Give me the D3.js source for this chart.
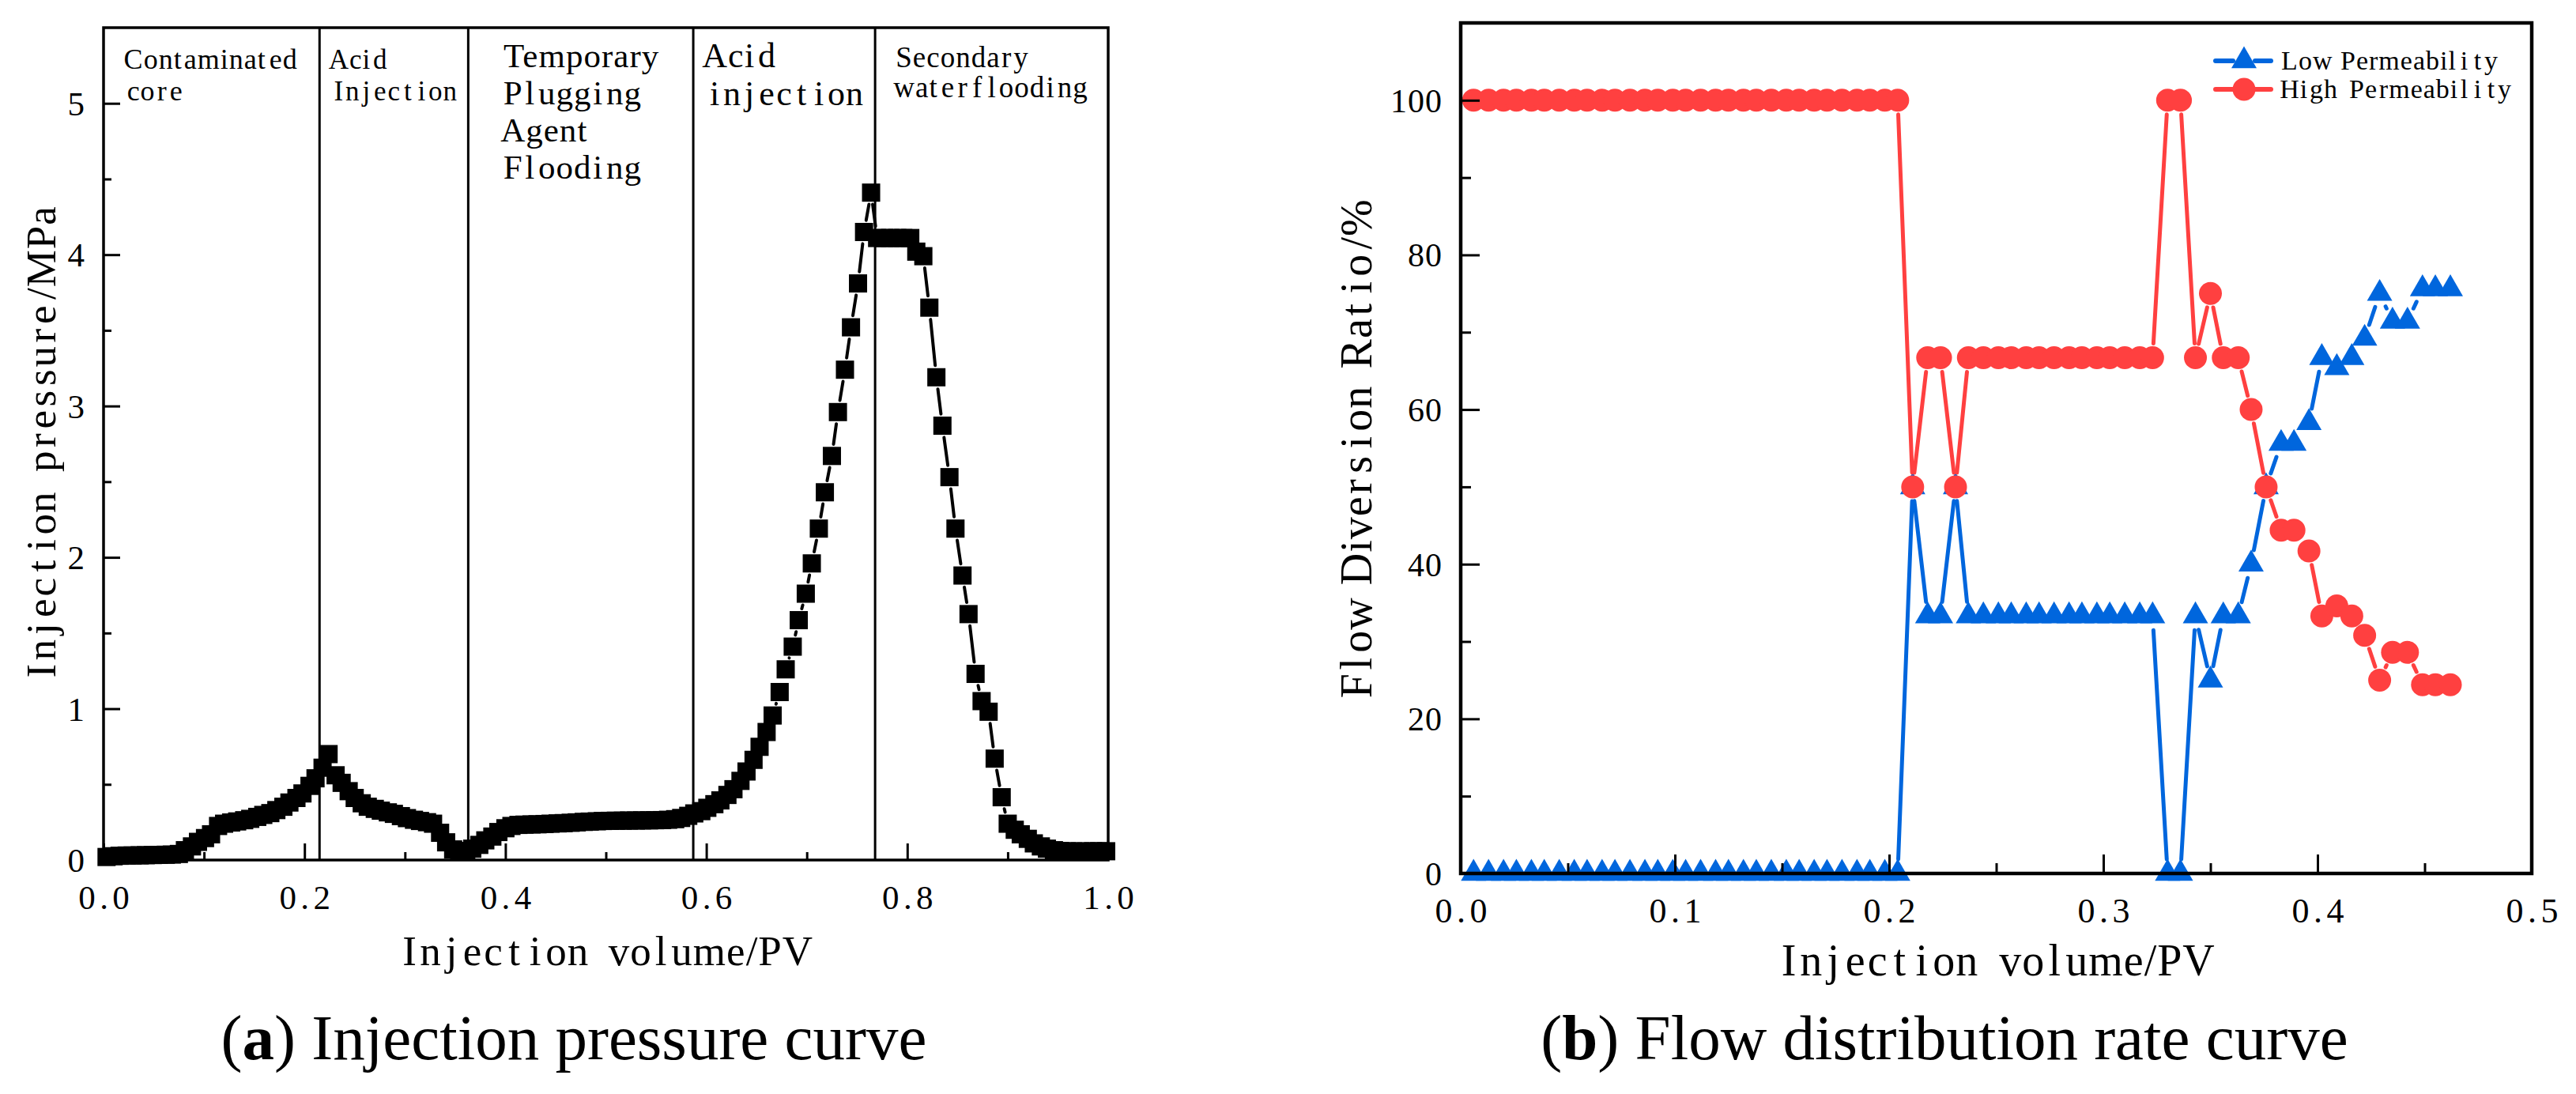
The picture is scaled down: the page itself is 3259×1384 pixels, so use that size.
<!DOCTYPE html>
<html>
<head>
<meta charset="utf-8">
<script src="https://cdn.jsdelivr.net/npm/d3@7"></script>
<style>
  body { margin: 0; background: #fff; }
</style>
</head>
<body>
<script>
// ---- data: (a) injection pressure ----
var pvA = [0.003,0.010,0.016,0.023,0.029,0.036,0.042,0.049,0.055,0.062,
           0.068,0.075,0.081,0.088,0.094,0.101,0.107,0.114,0.120,0.127,
           0.133,0.140,0.146,0.153,0.159,0.166,0.172,0.179,0.185,0.192,
           0.198,0.205,0.211,0.218,0.224,0.231,0.237,0.244,0.250,0.257,
           0.263,0.270,0.276,0.283,0.289,0.296,0.302,0.309,0.315,0.322,
           0.328,0.335,0.341,0.348,0.354,0.361,0.367,0.374,0.380,0.387,
           0.393,0.400,0.406,0.413,0.419,0.426,0.432,0.439,0.445,0.452,
           0.458,0.465,0.471,0.478,0.484,0.491,0.497,0.504,0.510,0.517,
           0.523,0.530,0.536,0.543,0.549,0.556,0.562,0.569,0.575,0.582,
           0.588,0.595,0.601,0.608,0.614,0.621,0.627,0.634,0.640,0.647,
           0.653,0.660,0.666,0.673,0.679,0.686,0.692,0.699,0.705,0.712,
           0.718,0.725,0.731,0.738,0.744,0.751,0.757,0.764,0.770,0.777,
           0.783,0.790,0.796,0.803,0.809,0.816,0.822,0.829,0.835,0.842,
           0.848,0.855,0.861,0.868,0.874,0.881,0.887,0.894,0.900,0.907,
           0.913,0.920,0.926,0.933,0.939,0.946,0.952,0.959,0.965,0.972,
           0.978,0.985,0.991,0.998];
var pressure = [0.020,0.025,0.028,0.030,0.030,0.031,0.032,0.033,0.034,0.035,
                0.036,0.040,0.065,0.090,0.120,0.145,0.170,0.225,0.240,0.248,
                0.255,0.263,0.272,0.285,0.298,0.310,0.330,0.352,0.380,0.410,
                0.440,0.490,0.540,0.610,0.700,0.560,0.510,0.455,0.410,0.375,
                0.352,0.338,0.326,0.315,0.305,0.290,0.277,0.266,0.258,0.250,
                0.240,0.180,0.117,0.070,0.055,0.060,0.075,0.100,0.130,0.155,
                0.185,0.210,0.225,0.232,0.234,0.235,0.236,0.238,0.240,0.242,
                0.244,0.246,0.249,0.252,0.254,0.256,0.258,0.259,0.260,0.260,
                0.261,0.261,0.262,0.262,0.263,0.264,0.266,0.270,0.278,0.292,
                0.308,0.323,0.345,0.369,0.394,0.430,0.468,0.523,0.585,0.662,
                0.748,0.846,0.955,1.110,1.260,1.410,1.585,1.760,1.960,2.190,
                2.430,2.670,2.960,3.240,3.520,3.810,4.150,4.410,4.110,4.110,
                4.110,4.110,4.110,4.110,4.020,3.990,3.650,3.190,2.870,2.530,
                2.190,1.880,1.625,1.230,1.050,0.980,0.670,0.415,0.240,0.200,
                0.170,0.140,0.110,0.090,0.075,0.065,0.060,0.058,0.057,0.057,
                0.057,0.058,0.058,0.058];
var phaseEdges = [0, 0.215, 0.363, 0.587, 0.768, 1.0];
var phaseLabels = [["Contaminated", "core"], ["Acid", "Injection"],
                   ["Temporary", "Plugging", "Agent", "Flooding"],
                   ["Acid", "injection"], ["Secondary", "waterflooding"]];
var ticksAX = [0, 0.2, 0.4, 0.6, 0.8, 1.0];
var ticksAXMinor = [0.1, 0.3, 0.5, 0.7, 0.9];
var ticksAY = [0, 1, 2, 3, 4, 5];
var ticksAYMinor = [0.5, 1.5, 2.5, 3.5, 4.5];

// ---- data: (b) flow diversion ratio ----
var pvB = [0.006,0.013,0.020,0.026,0.033,0.039,0.046,0.053,0.059,0.066,
           0.072,0.079,0.086,0.092,0.099,0.105,0.112,0.119,0.125,0.132,
           0.138,0.145,0.152,0.158,0.165,0.171,0.178,0.185,0.191,0.198,
           0.204,0.211,0.218,0.224,0.231,0.237,0.244,0.251,0.257,0.264,
           0.270,0.277,0.284,0.290,0.297,0.303,0.310,0.317,0.323,0.330,
           0.336,0.343,0.350,0.356,0.363,0.369,0.376,0.383,0.389,0.396,
           0.402,0.409,0.416,0.422,0.429,0.435,0.442,0.449,0.455,0.462];
var lowPerm = [0,0,0,0,0,0,0,0,0,0,
               0,0,0,0,0,0,0,0,0,0,
               0,0,0,0,0,0,0,0,0,0,
               0,50,33.3,33.3,50,33.3,33.3,33.3,33.3,33.3,
               33.3,33.3,33.3,33.3,33.3,33.3,33.3,33.3,33.3,0,
               0,33.3,25,33.3,33.3,40,50,55.6,55.6,58.3,
               66.7,65.4,66.7,69.2,75,71.4,71.4,75.6,75.6,75.6];
var highPerm = [100,100,100,100,100,100,100,100,100,100,
                100,100,100,100,100,100,100,100,100,100,
                100,100,100,100,100,100,100,100,100,100,
                100,50,66.7,66.7,50,66.7,66.7,66.7,66.7,66.7,
                66.7,66.7,66.7,66.7,66.7,66.7,66.7,66.7,66.7,100,
                100,66.7,75,66.7,66.7,60,50,44.4,44.4,41.7,
                33.3,34.6,33.3,30.8,25,28.6,28.6,24.4,24.4,24.4];
var seriesNames = ["Low Permeability", "High Permeability"];
var ticksBX = [0, 0.1, 0.2, 0.3, 0.4, 0.5];
var ticksBXMinor = [0.05, 0.15, 0.25, 0.35, 0.45];
var ticksBY = [0, 20, 40, 60, 80, 100];
var ticksBYMinor = [10, 30, 50, 70, 90];

// ---- look ----
var SERIF = "'Liberation Serif', 'DejaVu Serif', serif";
var RED = "#ff4040", BLUE = "#0066dd";

var svg = d3.select("body").append("svg")
    .attr("width", 3259).attr("height", 1384);
svg.append("rect").attr("width", 3259).attr("height", 1384).attr("fill", "#fff");

// half-width "SimSun" look: serif glyphs placed on a 0.5em grid,
// pushed right only when a wide glyph would touch the one before it
function mono(sel, fs, anchor) {
  sel.each(function () {
    var t = d3.select(this), s = this.textContent;
    t.attr("text-anchor", "start").attr("font-family", SERIF)
     .attr("font-size", fs).attr("fill", "#000").attr("x", 0);
    var cell = 0.5 * fs, xs = [], right = -1e9;
    for (var k = 0; k < s.length; k++) {
      var w = this.getSubStringLength(k, 1);
      var left = Math.max(k * cell + (cell - w) / 2, right + 1);
      xs.push(left);
      right = left + w;
    }
    var total = Math.max(right, s.length * cell);
    var x0 = +this.__x0 || 0;
    var shift = anchor === "middle" ? -total / 2 : anchor === "end" ? -total : 0;
    t.attr("x", xs.map(function (v) { return (v + x0 + shift).toFixed(2); }).join(" "));
  });
}
function place(sel, x) { sel.each(function () { this.__x0 = x; }); }

// line pieces with a gap round each symbol
function gapSegments(pts, gap) {
  var segs = [];
  for (var i = 1; i < pts.length; i++) {
    var x0 = pts[i-1][0], y0 = pts[i-1][1], x1 = pts[i][0], y1 = pts[i][1];
    var L = Math.hypot(x1 - x0, y1 - y0);
    if (L <= 2 * gap) continue;
    var ux = (x1 - x0) / L, uy = (y1 - y0) / L;
    segs.push([x0 + ux*gap, y0 + uy*gap, x1 - ux*gap, y1 - uy*gap]);
  }
  return segs;
}

function drawAxes(g, x, y, o) {
  var gx = g.append("g").attr("transform", "translate(0," + y.range()[0] + ")");
  gx.call(d3.axisBottom(x).tickValues(o.xMajor).tickSize(-o.big).tickFormat(d3.format(".1f")));
  gx.append("g").call(d3.axisBottom(x).tickValues(o.xMinor).tickSize(-o.small).tickFormat(""));
  gx.selectAll("text").attr("dy", null).attr("y", 62).call(place, 0).call(mono, o.fx, "middle");

  var gy = g.append("g").attr("transform", "translate(" + x.range()[0] + ",0)");
  gy.call(d3.axisLeft(y).tickValues(o.yMajor).tickSize(-o.big).tickFormat(d3.format("d")));
  gy.append("g").call(d3.axisLeft(y).tickValues(o.yMinor).tickSize(-o.small).tickFormat(""));
  gy.selectAll("text").attr("dy", null).attr("y", o.fy * 0.34).call(place, -24).call(mono, o.fy, "end");

  g.selectAll(".domain").remove();
  g.selectAll(".tick line").attr("stroke", "#000").attr("stroke-width", 3);

  g.append("rect")
    .attr("x", x.range()[0]).attr("y", y.range()[1])
    .attr("width", x.range()[1] - x.range()[0])
    .attr("height", y.range()[0] - y.range()[1])
    .attr("fill", "none").attr("stroke", "#000").attr("stroke-width", o.frame);

  var cx = (x.range()[0] + x.range()[1]) / 2, cy = (y.range()[0] + y.range()[1]) / 2;
  g.append("text").attr("y", o.xTitleY)
    .text(o.xTitle).call(place, cx).call(mono, o.ft, "middle");
  g.append("text")
    .attr("transform", "translate(" + o.yTitleX + "," + cy + ") rotate(-90)")
    .text(o.yTitle).call(place, 0).call(mono, o.ft, "middle");
}

// ================= (a) =================
var xa = d3.scaleLinear().domain([0, 1]).range([131, 1402]);
var ya = d3.scaleLinear().domain([0, 5.5]).range([1088, 35]);
var ga = svg.append("g");

var ptsA = pvA.map(function (v, i) { return [xa(v), ya(pressure[i])]; });
ga.append("g").selectAll("line").data(gapSegments(ptsA, 15)).enter().append("line")
  .attr("x1", function (d) { return d[0]; }).attr("y1", function (d) { return d[1]; })
  .attr("x2", function (d) { return d[2]; }).attr("y2", function (d) { return d[3]; })
  .attr("stroke", "#000").attr("stroke-width", 4).attr("stroke-linecap", "round");
ga.append("g").selectAll("rect").data(ptsA).enter().append("rect")
  .attr("x", function (d) { return d[0] - 11.5; }).attr("y", function (d) { return d[1] - 11.5; })
  .attr("width", 23).attr("height", 23).attr("fill", "#000");

// stage boundaries
ga.append("g").selectAll("line").data(phaseEdges.slice(1, -1)).enter().append("line")
  .attr("x1", function (d) { return xa(d); }).attr("x2", function (d) { return xa(d); })
  .attr("y1", ya.range()[1]).attr("y2", ya.range()[0])
  .attr("stroke", "#000").attr("stroke-width", 3);

// stage names, block centred in each stage
var phaseFont = [36, 35, 43, 44, 37];
var phaseTop = [87, 87, 85, 85, 85];
var phaseLead = [40, 40, 47, 48, 38];
phaseLabels.forEach(function (lines, i) {
  var fs = phaseFont[i];
  var mid = (xa(phaseEdges[i]) + xa(phaseEdges[i+1])) / 2;
  var wMax = d3.max(lines, function (s) { return s.length * 0.5 * fs; });
  lines.forEach(function (s, j) {
    ga.append("text").attr("y", phaseTop[i] + j * phaseLead[i])
      .text(s).call(place, mid - wMax / 2).call(mono, fs, "start");
  });
});

drawAxes(ga, xa, ya, {
  xMajor: ticksAX, xMinor: ticksAXMinor, yMajor: ticksAY, yMinor: ticksAYMinor,
  big: 21, small: 10, frame: 3.5, fx: 43, fy: 43, ft: 53,
  xTitle: "Injection volume/PV", xTitleY: 1221,
  yTitle: "Injection pressure/MPa", yTitleX: 70
});

// ================= (b) =================
var xb = d3.scaleLinear().domain([0, 0.5]).range([1848, 3203]);
var yb = d3.scaleLinear().domain([0, 110]).range([1105, 29]);
var gb = svg.append("g");

var tri = d3.symbol().type(d3.symbolTriangle).size(443);

function drawSeries(vals, color, marker) {
  var pts = pvB.map(function (v, i) { return [xb(v), yb(vals[i])]; });
  gb.append("g").selectAll("line").data(gapSegments(pts, 18)).enter().append("line")
    .attr("x1", function (d) { return d[0]; }).attr("y1", function (d) { return d[1]; })
    .attr("x2", function (d) { return d[2]; }).attr("y2", function (d) { return d[3]; })
    .attr("stroke", color).attr("stroke-width", 5).attr("stroke-linecap", "round");
  var m = gb.append("g");
  if (marker === "tri") {
    m.selectAll("path").data(pts).enter().append("path")
      .attr("d", tri).attr("transform", function (d) { return "translate(" + d[0] + "," + d[1] + ")"; })
      .attr("fill", color);
  } else {
    m.selectAll("circle").data(pts).enter().append("circle")
      .attr("cx", function (d) { return d[0]; }).attr("cy", function (d) { return d[1]; })
      .attr("r", 14.5).attr("fill", color);
  }
}
drawSeries(lowPerm, BLUE, "tri");
drawSeries(highPerm, RED, "circle");

drawAxes(gb, xb, yb, {
  xMajor: ticksBX, xMinor: ticksBXMinor, yMajor: ticksBY, yMinor: ticksBYMinor,
  big: 24, small: 13, frame: 4.5, fx: 44, fy: 42, ft: 56,
  xTitle: "Injection volume/PV", xTitleY: 1234,
  yTitle: "Flow Diversion Ratio/%", yTitleX: 1735
});

// legend
var leg = gb.append("g").attr("transform", "translate(2839,77)");
[BLUE, RED].forEach(function (c, i) {
  var row = leg.append("g").attr("transform", "translate(0," + (i * 36) + ")");
  row.append("line").attr("x1", -36).attr("x2", -14).attr("stroke", c)
    .attr("stroke-width", 6).attr("stroke-linecap", "round");
  row.append("line").attr("x1", 14).attr("x2", 34).attr("stroke", c)
    .attr("stroke-width", 6).attr("stroke-linecap", "round");
  if (i === 0) row.append("path").attr("d", tri).attr("fill", c);
  else row.append("circle").attr("r", 14.5).attr("fill", c);
  row.append("text").attr("y", 11).text(seriesNames[i]).call(place, 49).call(mono, 34, "start");
});

// ================= captions =================
function caption(x, tag, rest) {
  var t = svg.append("text").attr("x", x).attr("y", 1340).attr("text-anchor", "middle")
    .attr("font-family", SERIF).attr("font-size", 81).attr("fill", "#000");
  t.append("tspan").text("(");
  t.append("tspan").attr("font-weight", "bold").text(tag);
  t.append("tspan").text(") " + rest);
}
caption(726, "a", "Injection pressure curve");
caption(2460, "b", "Flow distribution rate curve");
</script>
</body>
</html>
